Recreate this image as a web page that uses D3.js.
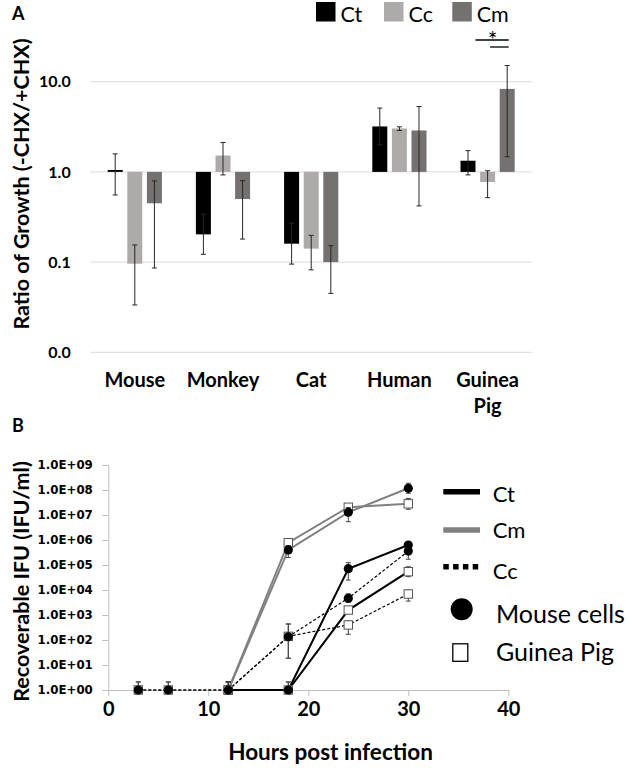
<!DOCTYPE html>
<html><head><meta charset="utf-8">
<script src="https://cdn.jsdelivr.net/npm/d3@7"></script>
<style>
body{margin:0;background:#fff}
svg{display:block}
</style>
</head><body>
<svg id="chart" width="630" height="768" font-family="Lato, 'Open Sans', sans-serif"></svg>
<script>
// ---------- Panel A data ----------
const speciesA = ["Mouse", "Monkey", "Cat", "Human", "Guinea Pig"];
const strainsA = ["Ct", "Cc", "Cm"];
const ratioCt = [1.05, 0.203, 0.16, 3.19, 1.33];
const ratioCc = [0.096, 1.52, 0.141, 3.03, 0.774];
const ratioCm = [0.449, 0.501, 0.10, 2.88, 8.32];
const errLowCt = [0.555, 0.122, 0.095, 2.0, 0.926];
const errHighCt = [1.585, 0.34, 0.27, 5.10, 1.72];
const errLowCc = [0.0335, 0.926, 0.082, 2.88, 0.518];
const errHighCc = [0.155, 2.12, 0.198, 3.16, 1.03];
const errLowCm = [0.086, 0.18, 0.045, 0.42, 1.47];
const errHighCm = [0.794, 0.80, 0.152, 5.3, 15.1];
const tickValuesA = [0.01, 0.1, 1, 10];
const tickLabelsA = ["0.0", "0.1", "1.0", "10.0"];

// ---------- Panel B data ----------
const hours = [3, 6, 12, 18, 24, 30];
const ctMouse = [null, null, 1, 1, 7.1e4, 6.3e5];
const ctGP    = [null, null, 1, 1, 1.58e3, 5.4e4];
const cmMouse = [null, null, 1, 4.0e5, 1.28e7, 1.17e8];
const cmGP    = [null, null, 1, 7.8e5, 2.04e7, 2.8e7];
const ccMouse = [1, 1, 1, 135, 4.7e3, 3.6e5];
const ccGP    = [1, 1, 1, 140, 400, 6.9e3];
const ctMouseErr = [null, null, [1, 2.1], [1, 2.1], [2.5e4, 1.24e5], [5.0e5, 7.5e5]];
const ctGPErr    = [null, null, [1, 2.1], [1, 2.1], [1.2e3, 2.1e3], [3.4e4, 8.5e4]];
const cmMouseErr = [null, null, [1, 2.1], [2.0e5, 6.0e5], [5.4e6, 2.0e7], [7.4e7, 1.86e8]];
const cmGPErr    = [null, null, [1, 2.1], [6.0e5, 9.5e5], [1.6e7, 2.5e7], [1.7e7, 4.6e7]];
const ccMouseErr = [[1, 2.1], [1, 2.1], [1, 2.1], [18.6, 437], [3.2e3, 6.9e3], [1.7e5, 5.0e5]];
const ccGPErr    = [[1, 2.1], [1, 2.1], [1, 2.1], [18.6, 437], [170, 575], [3.6e3, 1.0e4]];
const tickValuesB = [1, 1e1, 1e2, 1e3, 1e4, 1e5, 1e6, 1e7, 1e8, 1e9];
const xTicksB = [0, 10, 20, 30, 40];

const colors = {Ct: "#000000", Cc: "#aeaaaa", Cm: "#767171"};
const lineColors = {Ct: "#000000", Cm: "#808080", Cc: "#000000"};

const svg = d3.select("#chart");

// =============== PANEL A ===============
const A = {left: 90.7, right: 531.7, top: 81.7, bottom: 352.3};
const yA = d3.scaleLog().domain([0.01, 10]).range([A.bottom, A.top]);
const xA = d3.scaleBand().domain(speciesA).range([A.left, A.right]);
const xInner = d3.scaleBand().domain(strainsA).range([-27.1, 27.1]).paddingInner(0.235);

const gA = svg.append("g");
gA.selectAll("line.grid").data(tickValuesA).join("line")
  .attr("x1", A.left).attr("x2", A.right)
  .attr("y1", d => yA(d)).attr("y2", d => yA(d))
  .attr("stroke", "#d9d9d9").attr("stroke-width", 1);
const axA = d3.axisLeft(yA).tickValues(tickValuesA)
  .tickFormat((d, i) => tickLabelsA[i]).tickSize(0).tickPadding(20);
const axAG = gA.append("g").attr("transform", `translate(${A.left},0)`).call(axA);
axAG.select(".domain").remove();
axAG.attr("font-family", null).attr("font-size", null);
axAG.selectAll("text").style("font-size", "16px").style("font-weight", "bold")
  .style("font-family", "Lato, sans-serif").attr("fill", "#000");

const rowsA = [];
speciesA.forEach((sp, i) => {
  rowsA.push({sp, st: "Ct", v: ratioCt[i], lo: errLowCt[i], hi: errHighCt[i]});
  rowsA.push({sp, st: "Cc", v: ratioCc[i], lo: errLowCc[i], hi: errHighCc[i]});
  rowsA.push({sp, st: "Cm", v: ratioCm[i], lo: errLowCm[i], hi: errHighCm[i]});
});
const bx = d => xA(d.sp) + xA.bandwidth() / 2 + xInner(d.st);
gA.selectAll("rect.bar").data(rowsA).join("rect")
  .attr("x", bx)
  .attr("width", xInner.bandwidth())
  .attr("y", d => Math.min(yA(d.v), yA(1)))
  .attr("height", d => Math.max(1, Math.abs(yA(d.v) - yA(1))))
  .attr("fill", d => colors[d.st]);
const ebCol = "#262626";
const ebA = gA.selectAll("g.eb").data(rowsA).join("g")
  .attr("transform", d => `translate(${bx(d) + xInner.bandwidth() / 2},0)`);
ebA.append("line").attr("y1", d => yA(d.lo)).attr("y2", d => yA(d.hi))
  .attr("stroke", ebCol).attr("stroke-width", 1);
ebA.append("line").attr("x1", -2.5).attr("x2", 2.5).attr("y1", d => yA(d.lo)).attr("y2", d => yA(d.lo))
  .attr("stroke", ebCol).attr("stroke-width", 1);
ebA.append("line").attr("x1", -2.5).attr("x2", 2.5).attr("y1", d => yA(d.hi)).attr("y2", d => yA(d.hi))
  .attr("stroke", ebCol).attr("stroke-width", 1);

const catLab = gA.selectAll("text.cat").data(speciesA).join("text")
  .attr("text-anchor", "middle").attr("font-size", 20).attr("font-weight", "bold")
  .attr("x", d => xA(d) + xA.bandwidth() / 2).attr("y", 387);
catLab.each(function(d) {
  const parts = d.split(" ");
  const t = d3.select(this);
  parts.forEach((p, k) => t.append("tspan")
    .attr("x", xA(d) + xA.bandwidth() / 2).attr("dy", k === 0 ? 0 : 26).text(p));
});

svg.append("text").attr("transform", "translate(29,184) rotate(-90)")
  .attr("text-anchor", "middle").attr("font-size", 21.5).attr("font-weight", "bold")
  .text("Ratio of Growth (-CHX/+CHX)");
svg.append("text").attr("x", 12).attr("y", 19.5).attr("font-size", 18).attr("font-weight", "bold").text("A");

// legend A
const legA = svg.append("g");
const legAx = [316, 384, 452.3];
strainsA.forEach((s, i) => {
  legA.append("rect").attr("x", legAx[i]).attr("y", 2).attr("width", 19.5).attr("height", 19.5).attr("fill", colors[s]);
  legA.append("text").attr("x", legAx[i] + 24.5).attr("y", 21.5).attr("font-size", 21.5).text(s);
});

// significance
const gpC = xA("Guinea Pig") + xA.bandwidth() / 2;
const ctR = gpC + xInner("Ct") + xInner.bandwidth();
const cmC = gpC + xInner("Cm") + xInner.bandwidth() / 2;
const ccC = gpC + xInner("Cc") + xInner.bandwidth() / 2;
svg.append("line").attr("x1", ctR).attr("x2", cmC + 1.5).attr("y1", 40).attr("y2", 40).attr("stroke", "#000").attr("stroke-width", 1.3);
svg.append("line").attr("x1", ccC + 2.5).attr("x2", cmC + 1.5).attr("y1", 47).attr("y2", 47).attr("stroke", "#000").attr("stroke-width", 1.3);
svg.append("text").attr("x", 492.7).attr("y", 47.5).attr("text-anchor", "middle").attr("font-size", 23).text("*");

// =============== PANEL B ===============
const B = {left: 108.3, right: 508.3, top: 465, bottom: 690};
const xB = d3.scaleLinear().domain([0, 40]).range([B.left, B.right]);
const yB = d3.scaleLog().domain([1, 1e9]).range([B.bottom, B.top]);
const gB = svg.append("g");

const axY = d3.axisLeft(yB).tickValues(tickValuesB)
  .tickFormat(d => "1.0E+" + String(Math.round(Math.log10(d))).padStart(2, "0"))
  .tickSize(6).tickPadding(9.5);
const axYG = gB.append("g").attr("transform", `translate(${B.left},0)`).call(axY);
axYG.select(".domain").attr("stroke", "#bfbfbf");
axYG.selectAll(".tick line").attr("stroke", "#bfbfbf");
axYG.selectAll("text").style("font-size", "11.8px").style("font-weight", "bold")
  .style("font-family", "'DejaVu Sans', sans-serif").attr("fill", "#000");

const axX = d3.axisBottom(xB).tickValues(xTicksB).tickSize(6).tickPadding(6).tickSizeOuter(0);
const axXG = gB.append("g").attr("transform", `translate(0,${B.bottom})`).call(axX);
axXG.select(".domain").attr("stroke", "#bfbfbf");
axXG.selectAll(".tick line").attr("stroke", "#bfbfbf");
axXG.selectAll("text").style("font-size", "20px").style("font-weight", "bold")
  .style("font-family", "Lato, sans-serif").attr("fill", "#000");

const seriesB = [
  {st: "Cm", cell: "GP", vals: cmGP, err: cmGPErr},
  {st: "Cm", cell: "Mouse", vals: cmMouse, err: cmMouseErr},
  {st: "Ct", cell: "GP", vals: ctGP, err: ctGPErr},
  {st: "Ct", cell: "Mouse", vals: ctMouse, err: ctMouseErr},
  {st: "Cc", cell: "GP", vals: ccGP, err: ccGPErr},
  {st: "Cc", cell: "Mouse", vals: ccMouse, err: ccMouseErr}
];
const line = d3.line().x(d => xB(d.h)).y(d => yB(d.v));
seriesB.forEach(s => {
  const pts = hours.map((h, i) => ({h, v: s.vals[i], e: s.err[i]})).filter(p => p.v !== null);
  gB.append("path").datum(pts).attr("d", line).attr("fill", "none")
    .attr("stroke", lineColors[s.st])
    .attr("stroke-width", s.st === "Cc" ? 1.2 : 2)
    .attr("stroke-dasharray", s.st === "Cc" ? "3,2" : null);
});
seriesB.forEach(s => {
  const pts = hours.map((h, i) => ({h, v: s.vals[i], e: s.err[i]})).filter(p => p.v !== null);
  const g = gB.append("g");
  const eb = g.selectAll("g").data(pts).join("g").attr("transform", d => `translate(${xB(d.h)},0)`);
  eb.append("line").attr("y1", d => yB(d.e[0])).attr("y2", d => yB(d.e[1])).attr("stroke", "#444").attr("stroke-width", 1);
  eb.append("line").attr("x1", -2.5).attr("x2", 2.5).attr("y1", d => yB(d.e[1])).attr("y2", d => yB(d.e[1])).attr("stroke", "#444");
  eb.append("line").attr("x1", -2.5).attr("x2", 2.5).attr("y1", d => yB(d.e[0])).attr("y2", d => yB(d.e[0])).attr("stroke", "#444")
    .attr("opacity", d => d.e[0] <= 1 ? 0 : 1);
  if (s.cell === "Mouse") {
    g.selectAll("circle").data(pts).join("circle")
      .attr("cx", d => xB(d.h)).attr("cy", d => yB(d.v)).attr("r", 4.6).attr("fill", "#000");
  } else {
    g.selectAll("rect").data(pts).join("rect")
      .attr("x", d => xB(d.h) - 4.2).attr("y", d => yB(d.v) - 4.2).attr("width", 8.4).attr("height", 8.4)
      .attr("fill", "#fff").attr("stroke", "#555").attr("stroke-width", 1);
  }
});

svg.append("text").attr("transform", "translate(29,581.5) rotate(-90)")
  .attr("text-anchor", "middle").attr("font-size", 21.5).attr("font-weight", "bold")
  .text("Recoverable IFU (IFU/ml)");
svg.append("text").attr("x", 330.5).attr("y", 760).attr("text-anchor", "middle")
  .attr("font-size", 22.5).attr("font-weight", "bold").text("Hours post infection");
svg.append("text").attr("x", 12).attr("y", 432).attr("font-size", 18).attr("font-weight", "bold").text("B");

// legend B
const legB = svg.append("g");
const legLines = [
  {st: "Ct", y: 491.7, ty: 501.7},
  {st: "Cm", y: 530, ty: 538.3},
  {st: "Cc", y: 566.7, ty: 579.3}
];
legLines.forEach(l => {
  legB.append("line").attr("x1", 443.3).attr("x2", 480).attr("y1", l.y).attr("y2", l.y)
    .attr("stroke", lineColors[l.st]).attr("stroke-width", 5.5)
    .attr("stroke-dasharray", l.st === "Cc" ? "5.5,4.3" : null);
  legB.append("text").attr("x", 492.7).attr("y", l.ty).attr("font-size", 22).text(l.st);
});
legB.append("circle").attr("cx", 461.7).attr("cy", 609.3).attr("r", 11).attr("fill", "#000");
legB.append("text").attr("x", 496).attr("y", 623.3).attr("font-size", 25).text("Mouse cells");
legB.append("rect").attr("x", 452.8).attr("y", 643.8).attr("width", 15).attr("height", 17.5)
  .attr("fill", "#fff").attr("stroke", "#000").attr("stroke-width", 1.3);
legB.append("text").attr("x", 496).attr("y", 660.7).attr("font-size", 25).text("Guinea Pig");
</script>
</body></html>
